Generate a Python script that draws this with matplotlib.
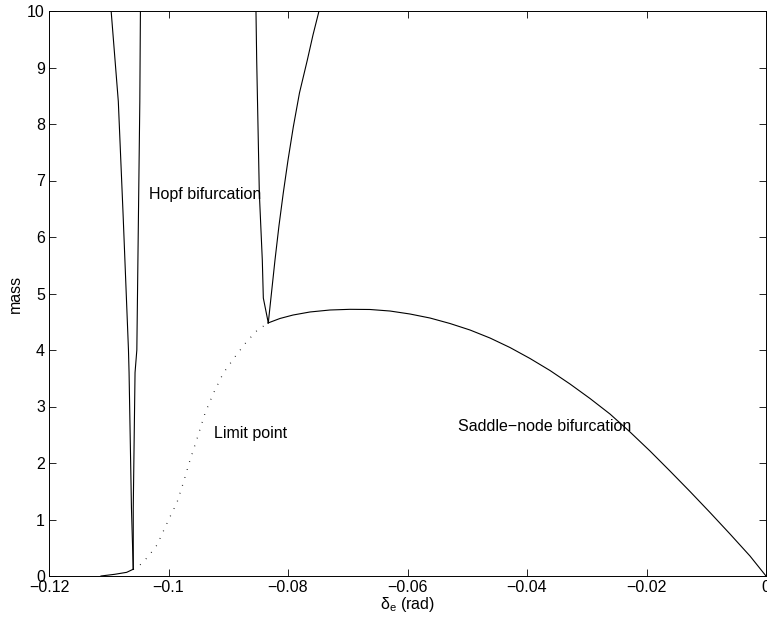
import matplotlib
matplotlib.use('Agg')
import matplotlib.pyplot as plt

plt.rcParams['font.family'] = ['Liberation Sans', 'DejaVu Sans']
plt.rcParams['mathtext.fontset'] = 'custom'
plt.rcParams['mathtext.rm'] = 'Liberation Sans'
plt.rcParams['mathtext.it'] = 'Liberation Sans'

# Hopf bifurcation, first branch (narrow V near -0.105)
hopf1_left_x = [-0.1096, -0.1084, -0.1076, -0.1067, -0.1066, -0.1062, -0.1059]
hopf1_left_y = [10.0, 8.4, 6.4, 4.0, 3.6, 1.2, 0.12]
hopf1_right_x = [-0.1059, -0.1059, -0.1056, -0.1053, -0.1048, -0.1047]
hopf1_right_y = [0.12, 1.2, 3.6, 4.0, 8.4, 10.0]
# tail running to the axis
tail_x = [-0.1113, -0.1090, -0.1070, -0.1059]
tail_y = [0.0, 0.03, 0.065, 0.12]

# Hopf bifurcation, second branch (V near -0.083)
hopf2_left_x = [-0.08536, -0.08524, -0.0848, -0.08430, -0.08413, -0.08330]
hopf2_left_y = [10.0, 9.13, 6.78, 5.59, 4.92, 4.48]
hopf2_right_x = [-0.08330, -0.08218, -0.08151, -0.08079, -0.0800, -0.07911,
                 -0.07808, -0.07677, -0.07582, -0.07481]
hopf2_right_y = [4.48, 5.59, 6.20, 6.78, 7.36, 7.95, 8.55, 9.13, 9.575, 10.0]

# Limit point curve (dotted)
lp_x = [-0.1059, -0.1051, -0.10343, -0.10192, -0.10092, -0.09992, -0.09858,
        -0.09752, -0.0964, -0.09528, -0.09389, -0.0925, -0.09083, -0.08887,
        -0.08691, -0.08514, -0.0833]
lp_y = [0.12, 0.16, 0.34, 0.55, 0.78, 1.01, 1.30,
        1.65, 2.05, 2.41, 2.88, 3.23, 3.59, 3.88,
        4.15, 4.35, 4.48]

# Saddle-node bifurcation curve
sn_x = [-0.08335, -0.08134, -0.07916, -0.07632, -0.07297, -0.06962, -0.06628,
        -0.06293, -0.05958, -0.05623, -0.05289, -0.04954, -0.04619, -0.04285,
        -0.0395, -0.03615, -0.03280, -0.02946, -0.02611, -0.02276, -0.01941,
        -0.01607, -0.01272, -0.00937, -0.00602, -0.00268, 0.0]
sn_y = [4.478, 4.558, 4.619, 4.673, 4.708, 4.720, 4.717,
        4.690, 4.637, 4.566, 4.469, 4.354, 4.212, 4.044,
        3.850, 3.637, 3.398, 3.142, 2.867, 2.549, 2.212,
        1.858, 1.496, 1.124, 0.743, 0.354, 0.0]

xticks = [-0.12, -0.1, -0.08, -0.06, -0.04, -0.02, 0]
xtick_labels = ['\u22120.12', '\u22120.1', '\u22120.08', '\u22120.06', '\u22120.04', '\u22120.02', '0']
yticks = list(range(0, 11))

fs = 11.5
fig = plt.figure(figsize=(7.67, 6.24), dpi=100)
ax = fig.add_axes([49 / 767, 48 / 624, 717 / 767, 565 / 624])

lw = 0.8
ax.plot(hopf1_left_x, hopf1_left_y, color='black', lw=lw)
ax.plot(hopf1_right_x, hopf1_right_y, color='black', lw=lw)
ax.plot(tail_x, tail_y, color='black', lw=lw)
ax.plot(hopf2_left_x, hopf2_left_y, color='black', lw=lw)
ax.plot(hopf2_right_x, hopf2_right_y, color='black', lw=lw)
ax.plot(sn_x, sn_y, color='black', lw=lw)
ax.plot(lp_x, lp_y, color='black', lw=0.9, linestyle=(0, (0.6, 6)))

ax.text(-0.10326, 6.76, 'Hopf bifurcation', fontsize=fs, va='center')
ax.text(-0.09239, 2.53, 'Limit point', fontsize=fs, va='center')
ax.text(-0.05155, 2.64, 'Saddle\u2212node bifurcation', fontsize=fs, va='center')

ax.set_xlim(-0.12, 0)
ax.set_ylim(0, 10)
ax.set_xticks(xticks)
ax.set_xticklabels(xtick_labels)
ax.set_yticks(yticks)
ax.tick_params(direction='in', length=5, width=0.6, top=True, right=True,
               labelsize=fs, pad=3)
for s in ax.spines.values():
    s.set_linewidth(0.7)

ax.set_xlabel(r'$\mathregular{\delta_e}$ (rad)', fontsize=fs, labelpad=0)
ax.set_ylabel('mass', fontsize=fs, labelpad=3)

fig.savefig('out.png', dpi=100)
